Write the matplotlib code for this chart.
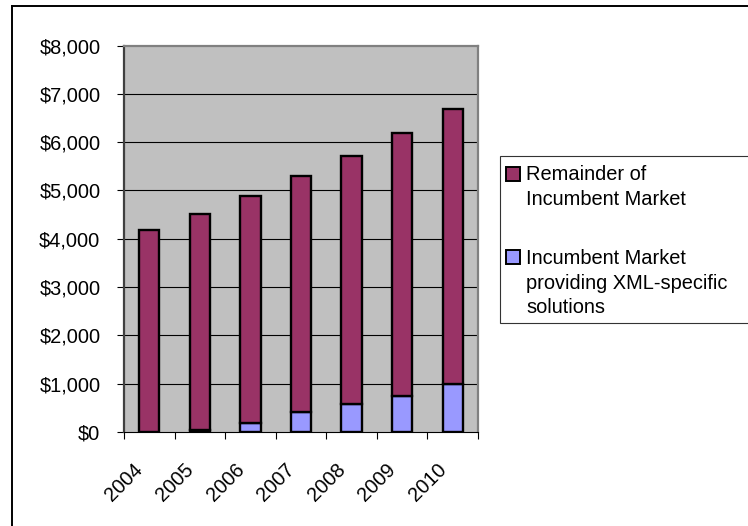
import matplotlib
matplotlib.use("Agg")
import matplotlib.pyplot as plt
from matplotlib.patches import Rectangle
from matplotlib.lines import Line2D
from matplotlib.ticker import FuncFormatter, FixedLocator
from matplotlib.transforms import ScaledTranslation
import numpy as np

years = ["2004", "2005", "2006", "2007", "2008", "2009", "2010"]
total_market = [4180, 4510, 4890, 5290, 5710, 6180, 6690]
xml_specific = [5, 40, 190, 420, 570, 740, 1000]
remainder = [t - x for t, x in zip(total_market, xml_specific)]
y_ticks = [0, 1000, 2000, 3000, 4000, 5000, 6000, 7000, 8000]
legend_labels = [["Remainder of", "Incumbent Market"],
                 ["Incumbent Market", "providing XML-specific", "solutions"]]

MAROON = "#993366"
BLUE = "#9999FF"
GRAY = "#C0C0C0"

plt.rcParams["font.family"] = ["Liberation Sans", "DejaVu Sans"]
FS = 14.4

W, H = 748, 526
fig = plt.figure(figsize=(W / 100, H / 100), dpi=100)

def fx(px):
    return px / W

def fy(py):
    return 1 - py / H

ax = fig.add_axes([fx(124), fy(432), fx(478) - fx(124), fy(45.5) - fy(432)])
ax.set_facecolor(GRAY)

x = np.arange(len(years))
ax.bar(x, xml_specific, width=0.4, color=BLUE, edgecolor="black", linewidth=1.7, zorder=3)
ax.bar(x, remainder, width=0.4, bottom=xml_specific, color=MAROON, edgecolor="black",
       linewidth=1.7, zorder=3)

ax.set_xlim(-0.5, len(years) - 0.5)
ax.set_ylim(y_ticks[0], y_ticks[-1])
ax.set_yticks(y_ticks)
ax.yaxis.set_major_formatter(FuncFormatter(lambda v, p: "${:,.0f}".format(v)))
ax.tick_params(axis="y", direction="out", length=5, width=0.8, pad=12, labelsize=FS,
               colors="black")

ax.set_xticks(x)
ax.set_xticklabels(years, rotation=45, ha="right", va="top", rotation_mode="anchor",
                   fontsize=FS)
ax.tick_params(axis="x", which="major", length=0, pad=14)
shift = ScaledTranslation(-16 / 100, -8 / 100, fig.dpi_scale_trans)
for lbl in ax.get_xticklabels():
    lbl.set_transform(lbl.get_transform() + shift)
ax.xaxis.set_minor_locator(FixedLocator(np.arange(-0.5, len(years), 1.0)))
ax.tick_params(axis="x", which="minor", direction="out", length=5, width=0.8)

for yv in y_ticks[1:-1]:
    ax.axhline(yv, color="black", linewidth=0.8, zorder=1)

ax.spines["top"].set_color("#808080")
ax.spines["top"].set_linewidth(1.6)
ax.spines["right"].set_color("#808080")
ax.spines["right"].set_linewidth(1.6)
ax.spines["left"].set_color("#404040")
ax.spines["left"].set_linewidth(1.6)
ax.spines["bottom"].set_color("black")
ax.spines["bottom"].set_linewidth(0.8)

# outer chart border
fig.add_artist(Line2D([fx(12), 1.0], [fy(6), fy(6)], color="black", linewidth=1.4))
fig.add_artist(Line2D([fx(12), fx(12)], [fy(6), 0.0], color="black", linewidth=1.4))

# legend
fig.add_artist(Rectangle((fx(500), fy(323)), fx(760) - fx(500), fy(156) - fy(323),
                         transform=fig.transFigure, facecolor="white",
                         edgecolor="#333333", linewidth=0.8))
legend_colors = [MAROON, BLUE]
marker_tops = [167, 250]
baselines = [[180, 205], [264, 289, 313]]
for col, mt, lines, bls in zip(legend_colors, marker_tops, legend_labels, baselines):
    fig.add_artist(Rectangle((fx(506), fy(mt + 14)), fx(520) - fx(506), fy(mt) - fy(mt + 14),
                             transform=fig.transFigure, facecolor=col,
                             edgecolor="black", linewidth=1.4))
    for line, bl in zip(lines, bls):
        fig.text(fx(526), fy(bl), line, fontsize=FS, ha="left", va="baseline")

fig.savefig("out.png", dpi=100)
